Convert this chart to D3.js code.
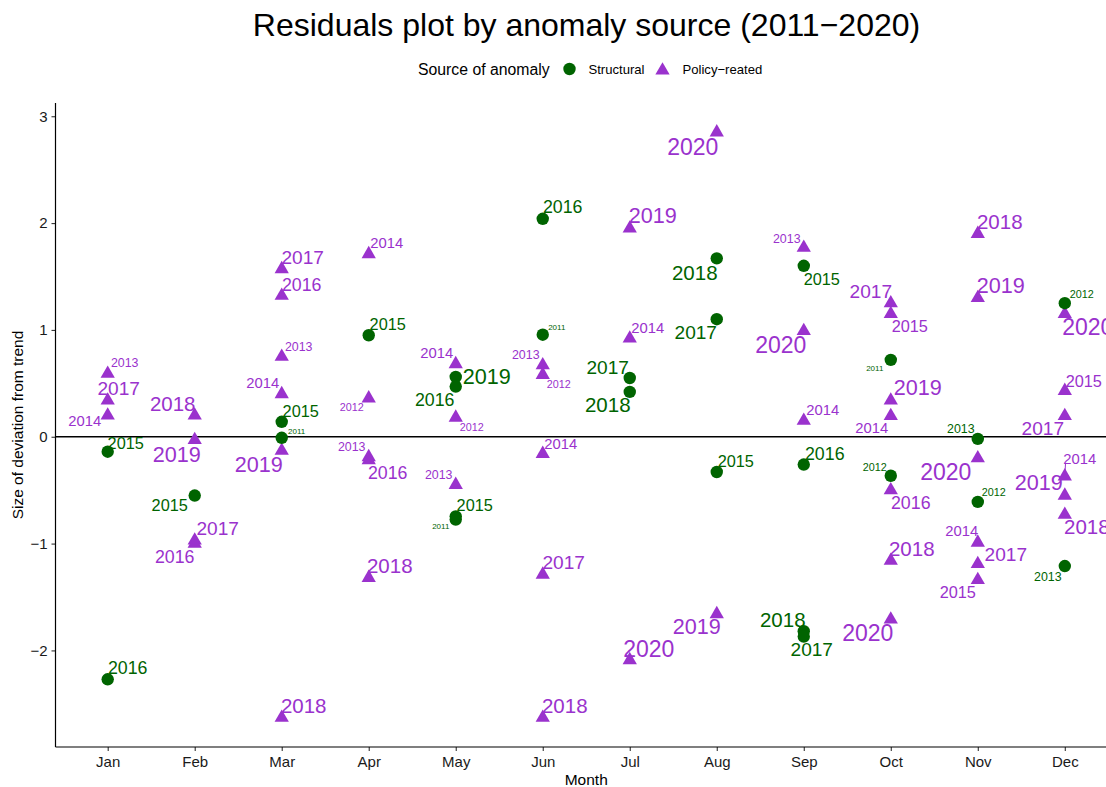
<!DOCTYPE html>
<html>
<head>
<meta charset="utf-8">
<script src="https://cdn.jsdelivr.net/npm/d3@7"></script>
<style>
  html, body { margin: 0; padding: 0; background: #fff; }
  svg { display: block; font-family: "Liberation Sans", Arial, Helvetica, sans-serif; }
</style>
</head>
<body>
<svg id="chart" width="1106" height="787"></svg>
<script>
// ---------------- DATA ----------------
const months = ["Jan","Feb","Mar","Apr","May","Jun","Jul","Aug","Sep","Oct","Nov","Dec"];
const years = [2011,2012,2013,2014,2015,2016,2017,2018,2019,2020];
const yTicks = [-2, -1, 0, 1, 2, 3];

// Structural anomalies: [month, year, deviation]
const structural = [
  ["Jan",2015,-0.14], ["Jan",2016,-2.27],
  ["Feb",2015,-0.55],
  ["Mar",2015,0.14], ["Mar",2011,-0.01],
  ["Apr",2015,0.95],
  ["May",2019,0.56], ["May",2016,0.47], ["May",2015,-0.745], ["May",2011,-0.775],
  ["Jun",2016,2.04], ["Jun",2011,0.955],
  ["Jul",2017,0.55], ["Jul",2018,0.42],
  ["Aug",2018,1.67], ["Aug",2017,1.10], ["Aug",2015,-0.33],
  ["Sep",2015,1.60], ["Sep",2016,-0.26], ["Sep",2018,-1.82], ["Sep",2017,-1.87],
  ["Oct",2011,0.72], ["Oct",2012,-0.365],
  ["Nov",2013,-0.02], ["Nov",2012,-0.61],
  ["Dec",2012,1.25], ["Dec",2013,-1.21]
];

// Policy-related anomalies: [month, year, deviation]
const policy = [
  ["Jan",2013,0.59], ["Jan",2017,0.34], ["Jan",2014,0.20],
  ["Feb",2018,0.20], ["Feb",2019,-0.03], ["Feb",2017,-0.97], ["Feb",2016,-1.00],
  ["Mar",2018,-2.63], ["Mar",2017,1.57], ["Mar",2016,1.32], ["Mar",2013,0.75], ["Mar",2014,0.40], ["Mar",2019,-0.13],
  ["Apr",2014,1.71], ["Apr",2012,0.36], ["Apr",2013,-0.19], ["Apr",2016,-0.22], ["Apr",2018,-1.32],
  ["May",2014,0.68], ["May",2012,0.18], ["May",2013,-0.45],
  ["Jun",2013,0.67], ["Jun",2012,0.58], ["Jun",2014,-0.16], ["Jun",2017,-1.29], ["Jun",2018,-2.63],
  ["Jul",2019,1.95], ["Jul",2014,0.92], ["Jul",2020,-2.09],
  ["Aug",2020,2.85], ["Aug",2019,-1.66],
  ["Sep",2013,1.77], ["Sep",2020,0.99], ["Sep",2014,0.15],
  ["Oct",2017,1.25], ["Oct",2015,1.15], ["Oct",2019,0.34], ["Oct",2014,0.195], ["Oct",2016,-0.50], ["Oct",2018,-1.16], ["Oct",2020,-1.71],
  ["Nov",2018,1.90], ["Nov",2019,1.30], ["Nov",2020,-0.20], ["Nov",2014,-0.99], ["Nov",2017,-1.19], ["Nov",2015,-1.34],
  ["Dec",2020,1.15], ["Dec",2015,0.43], ["Dec",2017,0.195], ["Dec",2014,-0.37], ["Dec",2019,-0.55], ["Dec",2018,-0.73]
];

// ---------------- LABEL LAYOUT (repelled label offsets, px from point) ----------------
const structLabelOffsets = [
  [18,-9],[20,-12],
  [-25,10],
  [19,-11],[15,-7],
  [19,-11],
  [31,-1],[-21,13],[19,-11],[-15,7],
  [20,-12],[14,-8],
  [-22,-11],[-22,13],
  [-22,14],[-21,13],[19,-11],
  [18,13],[21,-11],[-21,-12],[8,13],
  [-16,8],[-16,-9],
  [-17,-10],[16,-10],
  [17,-9],[-17,11]
];
const policyLabelOffsets = [
  [17,-11],[11,-12],[-23,5],
  [-22,-12],[-18,14],[23,-12],[-20,13],
  [22,-12],[21,-12],[20,-11],[17,-10],[-19,-11],[-23,14],
  [18,-11],[-17,9],[-17,-11],[19,12],[21,-12],
  [-19,-11],[16,10],[-17,-10],
  [-17,-11],[16,9],[18,-10],[21,-12],[22,-12],
  [23,-13],[18,-11],[19,-11],
  [-24,14],[-20,12],
  [-17,-9],[-23,14],[19,-11],
  [-20,-12],[19,12],[27,-13],[-19,12],[20,12],[21,-12],[-23,13],
  [22,-12],[23,-13],[-32,14],[-16,-12],[28,-10],[-20,12],
  [23,13],[19,-10],[-22,12],[15,-18,true],[-26,-13],[22,12]
];

// ---------------- STYLE ----------------
const greenCol = "#006400";
const purpleCol = "#9A32CD";
const labelSize = d3.scaleOrdinal().domain(years)
  .range([8.0, 10.8, 12.4, 14.8, 16.3, 17.8, 19.1, 20.5, 21.6, 23.0]);

const svg = d3.select("#chart");

// panel
const panel = { left: 55.5, right: 1117, top: 103, bottom: 747 };

const x = d3.scalePoint().domain(months).range([panel.left, panel.right]).padding(0.6);
const allVals = structural.concat(policy).map(d => d[2]);
const [vmin, vmax] = d3.extent(allVals);
const pad = (vmax - vmin) * 0.05;
const y = d3.scaleLinear().domain([vmin - pad, vmax + pad]).range([panel.bottom, panel.top]);

// title
svg.append("text")
  .attr("x", 586.5).attr("y", 36)
  .attr("text-anchor", "middle")
  .attr("font-size", 32)
  .attr("fill", "#000")
  .text("Residuals plot by anomaly source (2011\u22122020)");

// legend
const lg = svg.append("g");
lg.append("text").attr("x", 418).attr("y", 75).attr("font-size", 15.8).attr("fill", "#000").text("Source of anomaly");
lg.append("circle").attr("cx", 569.5).attr("cy", 69).attr("r", 6.2).attr("fill", greenCol);
lg.append("text").attr("x", 588.5).attr("y", 74).attr("font-size", 13.1).attr("fill", "#000").text("Structural");
const triPath = d3.symbol().type(d3.symbolTriangle).size(88)();
lg.append("path").attr("d", triPath).attr("transform", "translate(662.5,70.5)").attr("fill", purpleCol);
lg.append("text").attr("x", 682.5).attr("y", 74).attr("font-size", 13.1).attr("fill", "#000").text("Policy\u2212reated");

// zero line
svg.append("line")
  .attr("x1", panel.left).attr("x2", panel.right)
  .attr("y1", y(0)).attr("y2", y(0))
  .attr("stroke", "#000").attr("stroke-width", 1.3);

// axes
const yAxis = d3.axisLeft(y).tickValues(yTicks).tickSize(4).tickPadding(4)
  .tickFormat(d => d < 0 ? "\u2212" + Math.abs(d) : String(d));
const gy = svg.append("g").attr("transform", `translate(${panel.left},0)`).call(yAxis);
gy.select(".domain").remove();
gy.append("line").attr("x1", 0).attr("x2", 0).attr("y1", panel.top).attr("y2", panel.bottom)
  .attr("stroke", "#000").attr("stroke-width", 1.2);
gy.selectAll(".tick line").attr("stroke", "#333").attr("stroke-width", 1.1);
gy.selectAll(".tick text").attr("font-size", 15).attr("fill", "#1a1a1a")
  .attr("font-family", "'Liberation Sans', Arial, sans-serif");

const xAxis = d3.axisBottom(x).tickSize(4).tickPadding(5);
const gx = svg.append("g").attr("transform", `translate(0,${panel.bottom})`).call(xAxis);
gx.select(".domain").remove();
gx.append("line").attr("x1", panel.left).attr("x2", panel.right).attr("y1", 0).attr("y2", 0)
  .attr("stroke", "#000").attr("stroke-width", 1.2);
gx.selectAll(".tick line").attr("stroke", "#333").attr("stroke-width", 1.1);
gx.selectAll(".tick text").attr("font-size", 15).attr("fill", "#1a1a1a")
  .attr("font-family", "'Liberation Sans', Arial, sans-serif");

// axis titles
svg.append("text").attr("x", x("Jul") - 43.5).attr("y", 784.5)
  .attr("text-anchor", "middle").attr("font-size", 15.5).attr("fill", "#000").text("Month");
svg.append("text").attr("transform", `translate(23,${(panel.top + panel.bottom) / 2}) rotate(-90)`)
  .attr("text-anchor", "middle").attr("font-size", 15.5).attr("fill", "#000").text("Size of deviation from trend");

// points
const pts = svg.append("g");
pts.selectAll("path.pol").data(policy).join("path")
  .attr("class", "pol")
  .attr("d", triPath)
  .attr("transform", d => `translate(${x(d[0])},${y(d[2])})`)
  .attr("fill", purpleCol);
pts.selectAll("circle.str").data(structural).join("circle")
  .attr("class", "str")
  .attr("cx", d => x(d[0])).attr("cy", d => y(d[2])).attr("r", 6.2)
  .attr("fill", greenCol);

// labels
function drawLabels(data, offsets, color) {
  const g = svg.append("g");
  data.forEach((d, i) => {
    const px = x(d[0]), py = y(d[2]);
    const off = offsets[i];
    const lx = px + off[0], ly = py + off[1];
    const fs = labelSize(d[1]);
    if (off[2]) {
      const hh = fs * 0.36;
      const ex = lx - fs * 1.1 + 2, ey = ly + hh;
      g.append("line").attr("x1", px).attr("y1", py).attr("x2", ex).attr("y2", ey)
        .attr("stroke", color).attr("stroke-width", 1);
    }
    g.append("text")
      .attr("x", lx).attr("y", ly + fs * 0.36)
      .attr("text-anchor", "middle")
      .attr("font-size", fs)
      .attr("fill", color)
      .text(d[1]);
  });
}
drawLabels(structural, structLabelOffsets, greenCol);
drawLabels(policy, policyLabelOffsets, purpleCol);
</script>
</body>
</html>
